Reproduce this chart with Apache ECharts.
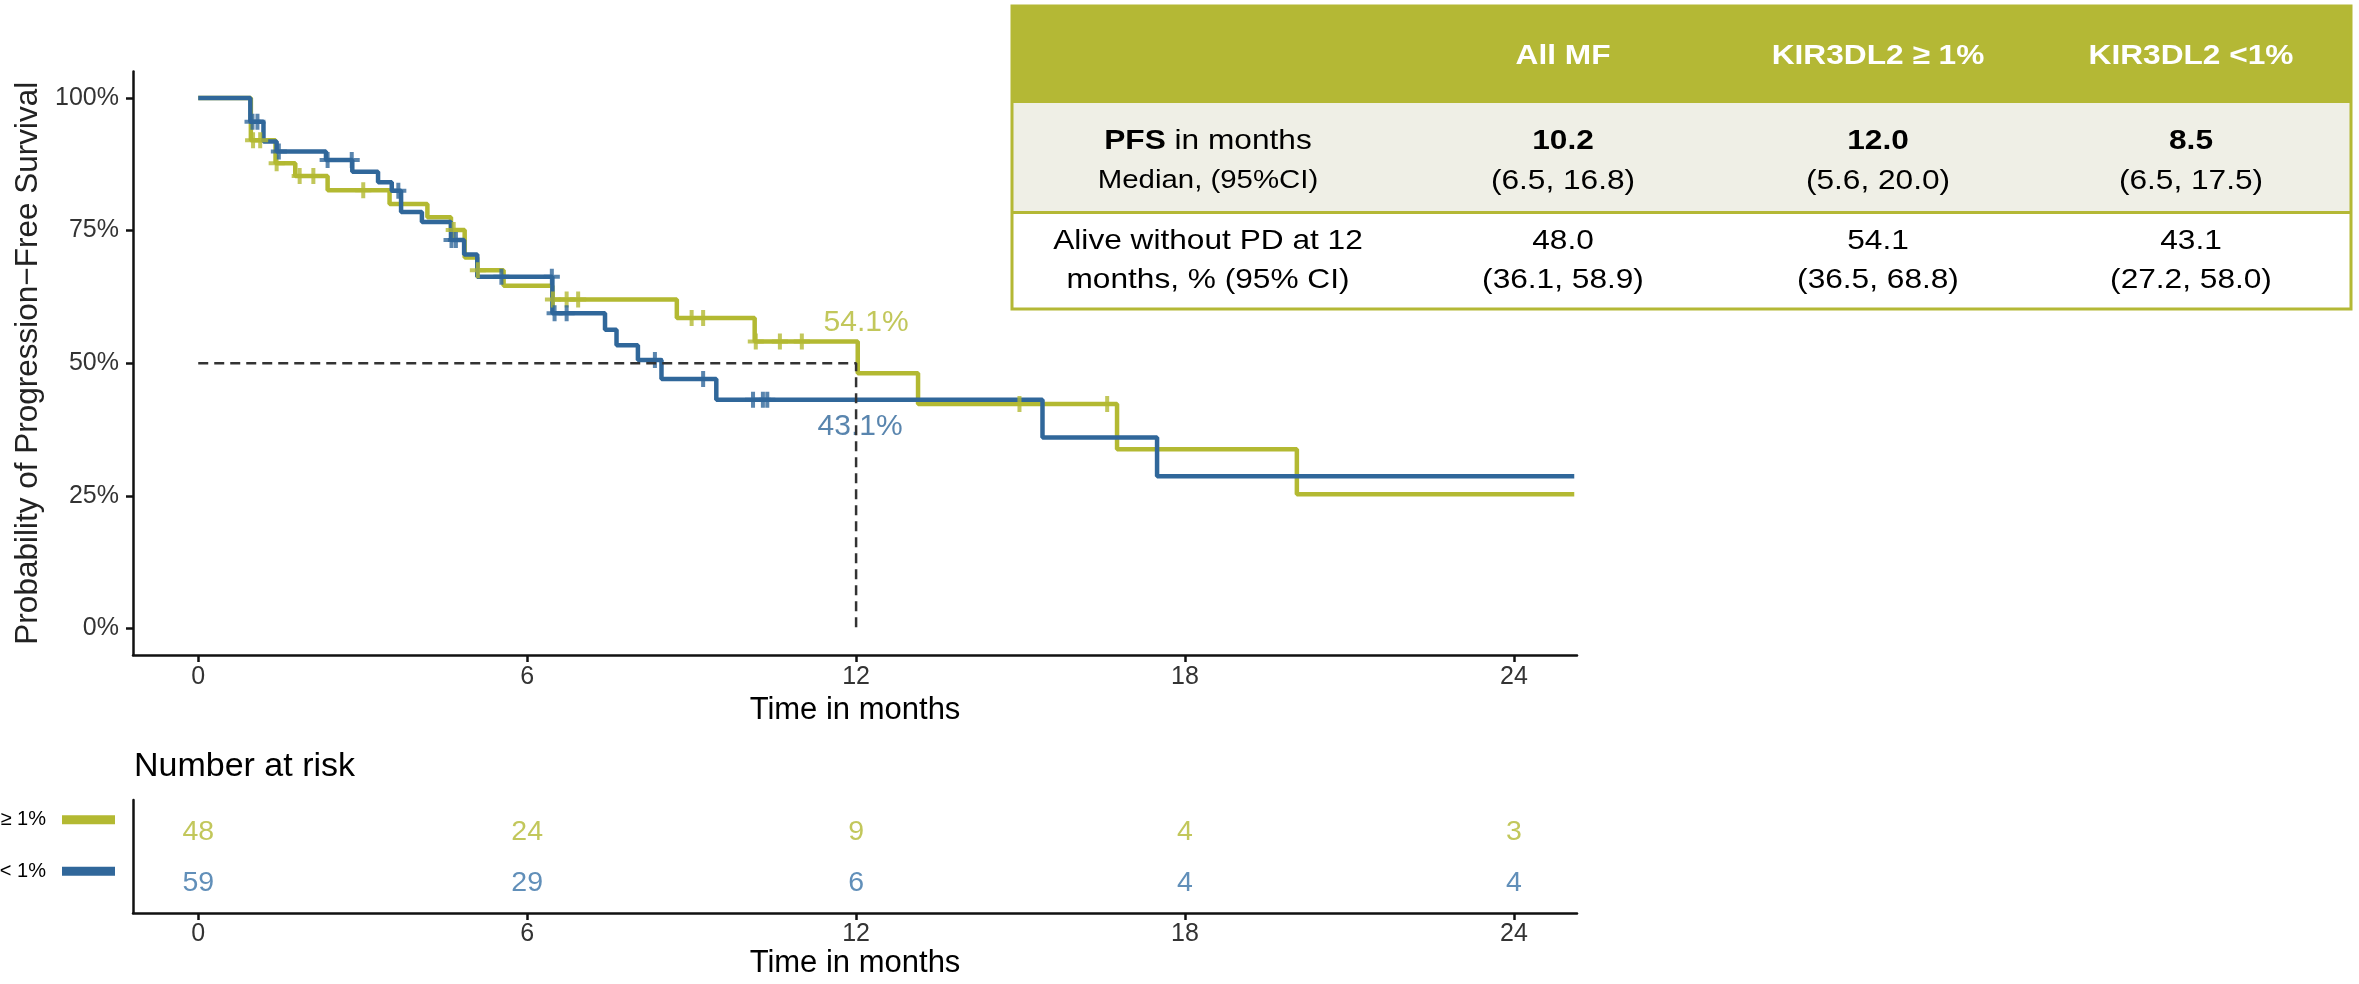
<!DOCTYPE html>
<html>
<head>
<meta charset="utf-8">
<script src="https://cdn.jsdelivr.net/npm/echarts@6/dist/echarts.min.js"></script>
<style>
html,body{margin:0;padding:0;background:#fff;}
#chart{width:2359px;height:984px;}
</style>
</head>
<body>
<div id="chart"></div>
<script>
// ---------------- data ----------------
const timeTicks = [0, 6, 12, 18, 24];
const pctTicks = [0, 25, 50, 75, 100];
const groupNames = ['KIR3DL2 \u2265 1%', 'KIR3DL2 < 1%'];

// KM step curve: KIR3DL2 >= 1%
const highTimes = [0, 0.96, 1.41, 1.77, 2.36, 3.49, 4.18, 4.61, 4.86, 5.09, 5.57, 6.46, 8.73, 10.15, 12.03, 13.13, 16.76, 20.04, 25.1];
const highSurv  = [100, 92.0, 87.7, 85.3, 82.6, 80.0, 77.5, 75.1, 69.9, 67.5, 64.6, 62.0, 58.5, 54.1, 48.1, 42.3, 33.8, 25.3, 25.3];
// censoring marks
const highCensTimes = [1.0, 1.13, 1.43, 1.85, 2.10, 3.01, 4.66, 5.10, 6.47, 6.72, 6.93, 9.00, 9.21, 10.17, 10.61, 11.01, 14.98, 16.58];
const highCensSurv  = [92.0, 92.0, 87.7, 85.3, 85.3, 82.6, 75.1, 67.5, 62.0, 62.0, 62.0, 58.5, 58.5, 54.1, 54.1, 54.1, 42.3, 42.3];

// KM step curve: KIR3DL2 < 1%
const lowTimes = [0, 0.95, 1.19, 1.43, 2.33, 2.81, 3.28, 3.53, 3.70, 4.08, 4.61, 4.85, 5.09, 6.46, 7.42, 7.63, 8.02, 8.45, 9.45, 15.40, 17.49, 25.1];
const lowSurv  = [100, 95.5, 91.8, 89.9, 88.3, 86.1, 84.1, 82.5, 78.5, 76.6, 73.2, 70.5, 66.3, 59.4, 56.3, 53.4, 50.6, 47.0, 43.1, 36.0, 28.7, 28.7];
const lowCensTimes = [0.99, 1.08, 1.47, 2.36, 2.80, 3.65, 4.62, 4.70, 5.53, 6.45, 6.50, 6.72, 8.33, 9.21, 10.12, 10.30, 10.38];
const lowCensSurv  = [95.5, 95.5, 89.9, 88.3, 88.3, 82.5, 73.2, 73.2, 66.3, 66.3, 59.4, 59.4, 50.6, 47.0, 43.1, 43.1, 43.1];

// survival at 12 months (annotations)
const landmarkTime = 12;
const survAt12 = [54.1, 43.1];
const medianLevel = 50;

// number at risk
const riskTimes = [0, 6, 12, 18, 24];
const riskHigh = [48, 24, 9, 4, 3];
const riskLow  = [59, 29, 6, 4, 4];

// summary table
const tableHeaders = ['All MF', 'KIR3DL2 \u2265 1%', 'KIR3DL2 <1%'];
const medianPFS = ['10.2', '12.0', '8.5'];
const medianCI  = ['(6.5, 16.8)', '(5.6, 20.0)', '(6.5, 17.5)'];
const pfs12     = ['48.0', '54.1', '43.1'];
const pfs12CI   = ['(36.1, 58.9)', '(36.5, 68.8)', '(27.2, 58.0)'];
const rowLabels = ['PFS', ' in months', 'Median, (95%CI)', 'Alive without PD at 12', 'months, % (95% CI)'];

// ---------------- styles ----------------
const GREEN = '#B3B932';
const BLUE = '#30679A';
const OLIVE = '#B4B835';
const FONT = "'Liberation Sans', Arial, Helvetica, sans-serif";
const plus = 'path://M6,0H10V6H16V10H10V16H6V10H0V6H6Z';

const zip = (a, b) => a.map((v, i) => [v, b[i]]);

const chart = echarts.init(document.getElementById('chart'), null, {renderer: 'canvas'});

// ---------- table graphics ----------
const TX = 1012, TY = 6, TW = 1339;
const H0 = 97, H1 = 109.5, H2 = 96.5;
const colX = [1208, 1563, 1878, 2191];
const SX = 1.13;
function txt(x, y, text, opts) {
  opts = opts || {};
  return {
    type: 'text', x: x, y: y, scaleX: SX, z: 20, silent: true,
    style: Object.assign({
      text: text, fill: '#000', fontSize: 28, fontFamily: FONT,
      align: 'center', verticalAlign: 'middle'
    }, opts)
  };
}
const graphics = [
  {type: 'rect', z: 10, silent: true, shape: {x: TX, y: TY, width: TW, height: H0 + H1 + H2}, style: {fill: '#fff'}},
  {type: 'rect', z: 11, silent: true, shape: {x: TX, y: TY, width: TW, height: H0}, style: {fill: OLIVE}},
  {type: 'rect', z: 11, silent: true, shape: {x: TX, y: TY + H0, width: TW, height: H1}, style: {fill: '#EFEFE6'}},
  {type: 'line', z: 12, silent: true, shape: {x1: TX, y1: TY + H0 + H1, x2: TX + TW, y2: TY + H0 + H1}, style: {stroke: OLIVE, lineWidth: 3}},
  {type: 'rect', z: 13, silent: true, shape: {x: TX, y: TY, width: TW, height: H0 + H1 + H2}, style: {fill: null, stroke: OLIVE, lineWidth: 3}}
];
tableHeaders.forEach((h, i) => graphics.push(txt(colX[i + 1], 56, h, {fill: '#fff', fontWeight: 'bold'})));
graphics.push(txt(colX[0], 141, '{b|' + rowLabels[0] + '}' + rowLabels[1], {rich: {b: {fontWeight: 'bold', fontSize: 28, fontFamily: FONT}}}));
graphics.push(txt(colX[0], 181, rowLabels[2], {fontSize: 26}));
graphics.push(txt(colX[0], 241, rowLabels[3]));
graphics.push(txt(colX[0], 280, rowLabels[4]));
medianPFS.forEach((v, i) => graphics.push(txt(colX[i + 1], 141, v, {fontWeight: 'bold'})));
medianCI.forEach((v, i) => graphics.push(txt(colX[i + 1], 181, v)));
pfs12.forEach((v, i) => graphics.push(txt(colX[i + 1], 241, v)));
pfs12CI.forEach((v, i) => graphics.push(txt(colX[i + 1], 280, v)));
// risk table title
graphics.push({type: 'text', x: 134, y: 767, silent: true,
  style: {text: 'Number at risk', fill: '#000', fontSize: 34, fontFamily: FONT, align: 'left', verticalAlign: 'middle'}});

const axisLineStyle = {color: '#111', width: 2.5};
const xMin = -1.19, xMax = 25.15;

const option = {
  animation: false,
  backgroundColor: '#fff',
  textStyle: {fontFamily: FONT},
  grid: [
    {left: 133, top: 71.4, width: 1444, height: 583.6, containLabel: false, outerBoundsMode: 'none'},
    {left: 133, top: 800, width: 1444, height: 113, containLabel: false, outerBoundsMode: 'none'}
  ],
  xAxis: [
    {
      type: 'value', gridIndex: 0, min: xMin, max: xMax,
      axisLine: {show: true, onZero: false, lineStyle: axisLineStyle},
      axisTick: {show: true, length: 7, customValues: timeTicks, lineStyle: axisLineStyle},
      axisLabel: {customValues: timeTicks, fontSize: 25, color: '#333', margin: 10, fontFamily: FONT},
      splitLine: {show: false},
      name: 'Time in months', nameLocation: 'middle', nameGap: 37,
      nameTextStyle: {fontSize: 31, color: '#000', fontFamily: FONT}
    },
    {
      type: 'value', gridIndex: 1, min: xMin, max: xMax,
      axisLine: {show: true, onZero: false, lineStyle: axisLineStyle},
      axisTick: {show: true, length: 7, customValues: timeTicks, lineStyle: axisLineStyle},
      axisLabel: {customValues: timeTicks, fontSize: 25, color: '#333', margin: 9, fontFamily: FONT},
      splitLine: {show: false},
      name: 'Time in months', nameLocation: 'middle', nameGap: 35,
      nameTextStyle: {fontSize: 31, color: '#000', fontFamily: FONT}
    }
  ],
  yAxis: [
    {
      type: 'value', gridIndex: 0, min: -5, max: 105,
      axisLine: {show: true, onZero: false, lineStyle: axisLineStyle},
      axisTick: {show: true, length: 7, customValues: pctTicks, lineStyle: axisLineStyle},
      axisLabel: {customValues: pctTicks, formatter: '{value}%', fontSize: 25, color: '#333', margin: 14, fontFamily: FONT},
      splitLine: {show: false},
      name: 'Probability of Progression\u2212Free Survival', nameLocation: 'middle', nameGap: 89,
      nameTextStyle: {fontSize: 31.5, color: '#222', fontFamily: FONT}
    },
    {
      type: 'value', gridIndex: 1, min: -0.58, max: 1.62,
      axisLine: {show: true, onZero: false, lineStyle: axisLineStyle},
      axisTick: {show: false},
      splitLine: {show: false},
      axisLabel: {
        customValues: [0, 1], margin: 18, padding: [0, 0, 24, 0],
        formatter: function (v) {
          const gi = v === 1 ? 0 : 1;
          return '{t|' + groupNames[gi] + '}{g| }{b' + gi + '| }';
        },
        rich: {
          t: {fontSize: 20, color: '#000', fontFamily: FONT},
          g: {width: 16},
          b0: {width: 53, height: 9, backgroundColor: GREEN},
          b1: {width: 53, height: 9, backgroundColor: BLUE}
        }
      }
    }
  ],
  graphic: graphics,
  series: [
    {
      name: groupNames[0], type: 'line', step: 'end', xAxisIndex: 0, yAxisIndex: 0,
      data: zip(highTimes, highSurv), symbol: 'none', silent: true, z: 2,
      lineStyle: {color: GREEN, width: 4.5}
    },
    {
      name: groupNames[1], type: 'line', step: 'end', xAxisIndex: 0, yAxisIndex: 0,
      data: zip(lowTimes, lowSurv), symbol: 'none', silent: true, z: 3,
      lineStyle: {color: BLUE, width: 4.5}
    },
    {
      type: 'scatter', xAxisIndex: 0, yAxisIndex: 0, data: zip(highCensTimes, highCensSurv),
      symbol: plus, symbolSize: 16, itemStyle: {color: GREEN}, silent: true, z: 4
    },
    {
      type: 'scatter', xAxisIndex: 0, yAxisIndex: 0, data: zip(lowCensTimes, lowCensSurv),
      symbol: plus, symbolSize: 16, itemStyle: {color: BLUE}, silent: true, z: 5
    },
    {
      type: 'line', xAxisIndex: 0, yAxisIndex: 0,
      data: [[0, medianLevel], [landmarkTime, medianLevel], [landmarkTime, 0]],
      symbol: 'none', silent: true, z: 8,
      lineStyle: {color: '#333', width: 2.5, type: [10, 6]}
    },
    {
      type: 'scatter', xAxisIndex: 0, yAxisIndex: 0,
      data: [{value: [landmarkTime, survAt12[0]], label: {color: GREEN, offset: [10, -19]}},
             {value: [landmarkTime, survAt12[1]], label: {color: BLUE, offset: [4, 27]}}],
      symbolSize: 1, itemStyle: {color: 'transparent'}, silent: true, z: 7,
      label: {show: true, position: 'inside', fontSize: 30, fontFamily: FONT,
        formatter: p => p.value[1].toFixed(1) + '%'}
    },
    {
      type: 'scatter', xAxisIndex: 1, yAxisIndex: 1,
      data: riskTimes.map((t, i) => [t, 1, riskHigh[i]]),
      symbolSize: 1, itemStyle: {color: 'transparent'}, silent: true,
      label: {show: true, position: 'inside', fontSize: 28.5, color: GREEN, fontFamily: FONT, formatter: p => String(p.value[2])}
    },
    {
      type: 'scatter', xAxisIndex: 1, yAxisIndex: 1,
      data: riskTimes.map((t, i) => [t, 0, riskLow[i]]),
      symbolSize: 1, itemStyle: {color: 'transparent'}, silent: true,
      label: {show: true, position: 'inside', fontSize: 28.5, color: '#3A73A8', fontFamily: FONT, formatter: p => String(p.value[2])}
    }
  ]
};
chart.setOption(option);
</script>
</body>
</html>
